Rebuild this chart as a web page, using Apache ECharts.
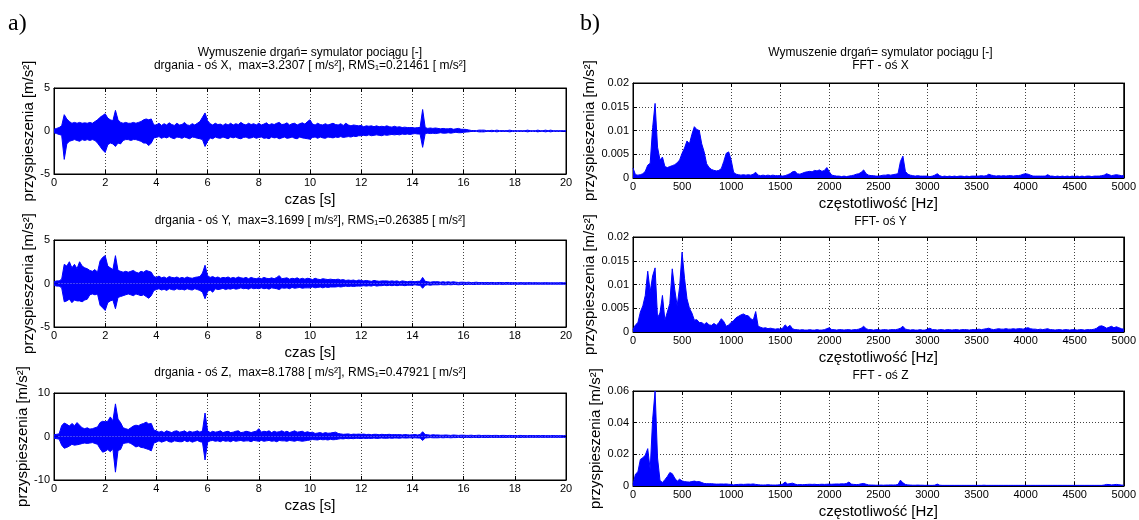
<!DOCTYPE html>
<html><head><meta charset="utf-8">
<script src="https://cdn.jsdelivr.net/npm/echarts/dist/echarts.min.js"></script>
<style>html,body{margin:0;padding:0;background:#fff}#c{width:1139px;height:520px}</style>
</head><body><div id="c"></div>
<script>
// ---------------- data ----------------
const T_STEP = 0.1;   // s, sampling of the envelope arrays
const F_STEP = 25;    // Hz, sampling of the spectrum arrays

const timeTicks = [0, 2, 4, 6, 8, 10, 12, 14, 16, 18, 20];
const freqTicks = [0, 500, 1000, 1500, 2000, 2500, 3000, 3500, 4000, 4500, 5000];

const titlesTime = [
  'drgania - oś X,  max=3.2307 [ m/s²], RMS₁=0.21461 [ m/s²]',
  'drgania - oś Y,  max=3.1699 [ m/s²], RMS₁=0.26385 [ m/s²]',
  'drgania - oś Z,  max=8.1788 [ m/s²], RMS₁=0.47921 [ m/s²]'
];
const titlesFFT = ['FFT - oś X', 'FFT- oś Y', 'FFT - oś Z'];
const mainTitle = 'Wymuszenie drgań= symulator pociągu [-]';

// upper / lower envelope of the time signals, every 0.1 s from 0 to 20 s
const xUp = [
0.2,0.3,0.4,0.6,1.9,1.4,1.1,0.9,1.0,0.9,
1.0,0.9,0.95,0.9,1.0,0.9,1.1,1.3,1.6,1.8,
2.0,1.5,1.3,1.2,2.4,1.3,1.0,0.9,1.0,0.9,
0.9,1.0,0.9,1.0,1.1,1.3,1.4,1.3,1.4,0.7,
0.7,0.9,0.65,0.85,0.7,0.95,0.75,0.65,0.9,0.7,
0.75,1.0,0.7,0.65,0.85,0.7,0.9,1.1,1.6,2.1,
1.2,0.85,0.7,0.9,0.75,0.8,0.65,0.85,0.7,0.9,
0.7,0.85,0.75,1.0,0.8,0.7,0.9,0.75,0.85,0.7,
0.9,0.7,0.8,0.95,0.7,0.85,0.75,0.9,1.0,0.75,
0.8,0.95,0.7,0.85,0.9,0.7,0.85,0.95,0.8,1.1,
1.3,0.8,0.7,0.9,0.75,0.7,0.85,0.7,0.8,0.9,
0.75,0.7,0.85,0.65,0.9,0.7,0.6,0.7,0.65,0.6,
0.65,0.5,0.6,0.55,0.6,0.5,0.6,0.5,0.55,0.5,
0.6,0.5,0.45,0.55,0.45,0.5,0.4,0.45,0.4,0.4,
0.4,0.35,0.4,0.4,2.5,0.4,0.3,0.35,0.3,0.35,
0.3,0.25,0.3,0.25,0.25,0.3,0.2,0.25,0.3,0.2,
0.2,0.18,0.12,0.06,0.05,0.04,0.1,0.1,0.1,0.04,
0.04,0.08,0.04,0.1,0.04,0.04,0.04,0.04,0.1,0.04,
0.03,0.03,0.03,0.03,0.03,0.1,0.03,0.03,0.03,0.1,
0.03,0.03,0.1,0.03,0.1,0.03,0.03,0.03,0.03,0.03,
0.03];
const xLo = [
-0.2,-0.3,-0.4,-0.5,-3.3,-1.5,-1.2,-1.1,-1.0,-1.1,
-1.2,-1.0,-1.1,-1.0,-1.1,-1.0,-1.1,-1.4,-1.8,-2.2,
-2.5,-1.6,-1.4,-1.5,-1.8,-1.4,-1.5,-1.1,-1.0,-1.0,
-1.1,-1.0,-1.0,-1.1,-1.2,-1.4,-1.4,-1.7,-1.4,-0.8,
-0.75,-0.65,-0.85,-0.7,-0.8,-0.65,-0.8,-0.9,-0.7,-0.75,
-0.85,-0.7,-0.8,-0.9,-0.7,-0.75,-0.85,-0.9,-1.0,-1.8,
-1.2,-0.8,-0.9,-0.7,-0.8,-0.85,-0.7,-0.8,-0.9,-0.7,
-0.8,-0.7,-0.85,-0.9,-0.75,-0.7,-0.85,-0.8,-0.7,-0.85,
-0.75,-0.7,-0.85,-0.8,-0.9,-0.7,-0.8,-0.75,-0.9,-0.8,
-0.7,-0.85,-0.8,-0.7,-0.85,-0.9,-0.7,-0.8,-0.85,-0.9,
-0.95,-0.75,-0.7,-0.85,-0.7,-0.8,-0.85,-0.7,-0.75,-0.8,
-0.7,-0.75,-0.65,-0.75,-0.7,-0.65,-0.7,-0.6,-0.65,-0.55,
-0.55,-0.5,-0.55,-0.45,-0.55,-0.5,-0.45,-0.5,-0.55,-0.45,
-0.5,-0.45,-0.4,-0.45,-0.4,-0.45,-0.35,-0.4,-0.35,-0.4,
-0.35,-0.3,-0.35,-0.35,-1.9,-0.3,-0.25,-0.3,-0.25,-0.3,
-0.25,-0.2,-0.25,-0.25,-0.2,-0.25,-0.2,-0.15,-0.2,-0.2,
-0.15,-0.12,-0.1,-0.05,-0.05,-0.04,-0.1,-0.1,-0.1,-0.04,
-0.04,-0.08,-0.04,-0.1,-0.04,-0.04,-0.04,-0.04,-0.1,-0.04,
-0.03,-0.03,-0.03,-0.03,-0.03,-0.1,-0.03,-0.03,-0.03,-0.1,
-0.03,-0.03,-0.1,-0.03,-0.1,-0.03,-0.03,-0.03,-0.03,-0.03,
-0.03];

const yUp = [
0.2,0.3,0.3,0.5,2.2,2.0,2.5,1.8,2.2,1.7,
2.5,2.0,1.8,1.7,1.5,1.4,1.6,1.3,2.6,3.0,
3.2,2.0,1.8,1.6,3.2,1.5,1.4,1.3,1.4,1.3,
1.4,1.5,1.3,1.2,1.4,1.3,1.5,1.4,1.3,0.8,
0.7,0.85,0.65,0.75,0.6,0.8,0.7,0.65,0.75,0.6,
0.7,0.6,0.75,0.65,0.6,0.7,0.75,0.8,1.2,2.1,
0.9,0.7,0.8,0.65,0.75,0.6,0.7,0.65,0.75,0.6,
0.7,0.6,0.75,0.65,0.6,0.7,0.55,0.7,0.6,0.55,
0.65,0.55,0.7,0.6,0.55,0.65,0.55,0.7,0.9,0.55,
0.6,0.65,0.5,0.6,0.55,0.65,0.5,0.6,0.5,0.6,
0.55,0.45,0.6,0.5,0.45,0.55,0.5,0.45,0.5,0.45,
0.45,0.5,0.4,0.45,0.35,0.4,0.35,0.4,0.3,0.4,
0.35,0.3,0.35,0.3,0.25,0.35,0.3,0.25,0.3,0.3,
0.3,0.25,0.3,0.25,0.3,0.2,0.3,0.25,0.2,0.25,
0.25,0.2,0.25,0.25,0.7,0.25,0.2,0.15,0.2,0.2,
0.2,0.15,0.2,0.15,0.2,0.15,0.2,0.15,0.12,0.15,
0.15,0.12,0.15,0.1,0.12,0.15,0.1,0.12,0.1,0.12,
0.1,0.12,0.1,0.1,0.12,0.1,0.1,0.12,0.1,0.1,
0.1,0.08,0.1,0.1,0.08,0.1,0.1,0.08,0.1,0.08,
0.08,0.08,0.1,0.08,0.08,0.08,0.08,0.08,0.1,0.08,
0.08];
const yLo = [
-0.2,-0.3,-0.3,-0.5,-2.1,-2.0,-1.8,-2.2,-1.9,-2.0,
-2.0,-2.1,-1.9,-1.8,-1.3,-1.2,-1.3,-1.2,-2.5,-2.8,
-3.1,-2.2,-2.0,-1.9,-2.9,-1.6,-1.5,-1.4,-1.3,-1.2,
-1.3,-1.4,-1.2,-1.3,-1.4,-1.3,-1.5,-1.7,-1.4,-0.8,
-0.7,-0.6,-0.75,-0.65,-0.8,-0.6,-0.7,-0.75,-0.6,-0.7,
-0.65,-0.75,-0.6,-0.7,-0.75,-0.6,-0.7,-0.8,-1.0,-1.75,
-0.9,-0.75,-1.0,-0.6,-0.7,-0.65,-0.55,-0.7,-0.6,-0.65,
-0.55,-0.65,-0.6,-0.5,-0.6,-0.55,-0.65,-0.5,-0.6,-0.55,
-0.6,-0.5,-0.6,-0.55,-0.65,-0.5,-0.55,-0.6,-0.7,-0.5,
-0.55,-0.5,-0.6,-0.45,-0.55,-0.5,-0.45,-0.55,-0.5,-0.5,
-0.5,-0.4,-0.5,-0.45,-0.4,-0.5,-0.4,-0.45,-0.4,-0.4,
-0.4,-0.35,-0.4,-0.35,-0.3,-0.35,-0.3,-0.35,-0.3,-0.3,
-0.3,-0.25,-0.3,-0.25,-0.3,-0.2,-0.3,-0.25,-0.25,-0.2,
-0.25,-0.2,-0.25,-0.2,-0.25,-0.2,-0.2,-0.25,-0.2,-0.2,
-0.2,-0.15,-0.2,-0.2,-0.55,-0.2,-0.15,-0.2,-0.15,-0.15,
-0.15,-0.12,-0.15,-0.15,-0.12,-0.15,-0.12,-0.12,-0.15,-0.12,
-0.1,-0.12,-0.1,-0.1,-0.12,-0.1,-0.1,-0.08,-0.1,-0.1,
-0.1,-0.08,-0.1,-0.1,-0.08,-0.1,-0.1,-0.08,-0.1,-0.1,
-0.08,-0.1,-0.08,-0.08,-0.1,-0.08,-0.08,-0.08,-0.08,-0.08,
-0.08,-0.08,-0.08,-0.08,-0.08,-0.08,-0.08,-0.08,-0.08,-0.08,
-0.08];

const zUp = [
0.4,0.5,0.6,2.5,3.1,2.8,2.4,3.0,2.5,3.2,
2.6,2.0,1.8,2.0,1.7,1.8,2.0,2.2,3.2,3.5,
3.4,3.5,4.5,3.6,7.5,4.0,3.2,2.0,1.8,1.6,
2.0,2.4,2.6,2.5,2.8,3.0,3.3,2.9,3.0,1.5,
1.3,1.0,1.2,0.9,1.3,1.1,0.9,1.2,1.3,1.0,
1.1,1.3,0.9,1.2,1.0,1.1,1.3,1.0,1.3,5.4,
1.3,0.9,1.2,1.0,1.1,1.3,0.9,1.1,1.2,0.9,
1.0,1.2,1.3,0.9,1.0,1.2,1.1,0.9,1.1,1.2,
1.8,1.0,1.2,1.1,1.3,0.9,1.2,1.0,1.1,1.3,
1.0,1.2,0.9,1.1,1.3,1.0,1.1,1.2,0.9,1.1,
0.9,1.0,0.7,0.8,0.9,0.7,0.9,0.75,0.8,0.9,
1.0,0.7,0.6,0.5,0.55,0.6,0.45,0.55,0.5,0.55,
0.5,0.55,0.45,0.5,0.4,0.5,0.5,0.4,0.5,0.45,
0.45,0.5,0.4,0.45,0.4,0.45,0.35,0.45,0.4,0.35,
0.4,0.45,0.35,0.45,1.1,0.45,0.4,0.3,0.4,0.35,
0.35,0.3,0.3,0.35,0.3,0.25,0.35,0.3,0.25,0.3,
0.3,0.25,0.25,0.3,0.22,0.25,0.3,0.22,0.25,0.25,
0.25,0.22,0.25,0.25,0.2,0.25,0.25,0.2,0.25,0.22,
0.22,0.2,0.25,0.22,0.2,0.2,0.22,0.22,0.2,0.22,
0.2,0.22,0.2,0.2,0.2,0.22,0.2,0.2,0.2,0.2,
0.2];
const zLo = [
-0.4,-0.5,-0.6,-2.0,-2.7,-2.5,-2.2,-1.8,-2.0,-1.9,
-1.8,-1.6,-1.5,-1.6,-1.5,-1.4,-1.6,-1.8,-2.8,-3.6,
-3.4,-3.0,-3.5,-2.8,-8.2,-3.2,-3.0,-1.6,-1.5,-1.4,
-1.6,-2.0,-2.4,-2.2,-2.5,-2.6,-2.8,-3.0,-3.3,-1.5,
-1.3,-1.0,-1.3,-1.1,-0.9,-1.2,-1.3,-1.0,-1.1,-1.2,
-1.2,-0.9,-1.2,-1.0,-1.3,-1.1,-0.9,-1.2,-1.3,-5.4,
-1.3,-1.0,-0.9,-1.1,-1.0,-1.2,-0.9,-1.1,-1.0,-1.2,
-0.9,-1.1,-1.0,-0.9,-1.1,-1.0,-1.0,-1.2,-0.9,-1.0,
-1.1,-0.9,-1.1,-1.0,-0.9,-1.1,-1.0,-1.2,-0.9,-1.0,
-1.0,-1.1,-0.9,-1.0,-1.1,-0.9,-1.0,-1.1,-1.0,-0.9,
-0.8,-0.7,-0.75,-0.8,-0.65,-0.75,-0.7,-0.8,-0.65,-0.75,
-0.7,-0.6,-0.5,-0.55,-0.45,-0.5,-0.45,-0.5,-0.4,-0.45,
-0.45,-0.4,-0.45,-0.4,-0.45,-0.35,-0.45,-0.4,-0.35,-0.4,
-0.4,-0.35,-0.4,-0.35,-0.35,-0.4,-0.3,-0.35,-0.35,-0.3,
-0.35,-0.3,-0.35,-0.35,-0.9,-0.35,-0.3,-0.25,-0.3,-0.3,
-0.3,-0.25,-0.3,-0.25,-0.25,-0.3,-0.25,-0.25,-0.2,-0.25,
-0.25,-0.2,-0.22,-0.25,-0.2,-0.22,-0.25,-0.2,-0.22,-0.22,
-0.22,-0.2,-0.22,-0.2,-0.22,-0.2,-0.22,-0.2,-0.2,-0.22,
-0.2,-0.2,-0.22,-0.2,-0.2,-0.2,-0.2,-0.2,-0.2,-0.2,
-0.2,-0.2,-0.2,-0.2,-0.2,-0.2,-0.2,-0.2,-0.2,-0.2,
-0.2];

// FFT amplitude every 25 Hz from 0 to 5000 Hz
const fftX = [
0.0021,0.0007,0.0006,0.0007,0.0009,0.0014,0.0027,0.0031,0.0106,0.0157,0.0065,0.0038,0.0044,0.0024,0.0022,0.0024,0.0026,0.0028,0.0032,0.0038,
0.0052,0.0063,0.0078,0.0072,0.0092,0.0108,0.0102,0.0100,0.0072,0.0055,0.0030,0.0022,0.0018,0.0016,0.0015,0.0016,0.0020,0.0035,0.0052,0.0055,
0.0038,0.0012,0.0008,0.0007,0.0006,0.0007,0.0006,0.0007,0.0006,0.0008,0.0012,0.0006,0.0005,0.0006,0.0005,0.0006,0.0005,0.0006,0.0005,0.0005,
0.0005,0.0004,0.0005,0.0007,0.0009,0.0013,0.0014,0.0009,0.0008,0.0010,0.0012,0.0013,0.0014,0.0013,0.0016,0.0015,0.0017,0.0014,0.0016,0.0022,
0.0013,0.0006,0.0005,0.0004,0.0004,0.0003,0.0004,0.0003,0.0004,0.0005,0.0006,0.0008,0.0009,0.0012,0.0017,0.0009,0.0006,0.0005,0.0005,0.0004,
0.0004,0.0005,0.0006,0.0006,0.0007,0.0006,0.0007,0.0008,0.0009,0.0035,0.0046,0.0014,0.0008,0.0006,0.0005,0.0004,0.0005,0.0004,0.0004,0.0004,
0.0004,0.0003,0.0004,0.0006,0.0009,0.0005,0.0003,0.0004,0.0003,0.0004,0.0003,0.0004,0.0003,0.0004,0.0004,0.0003,0.0004,0.0003,0.0004,0.0004,
0.0004,0.0004,0.0005,0.0004,0.0005,0.0008,0.0006,0.0005,0.0004,0.0005,0.0004,0.0005,0.0004,0.0005,0.0005,0.0004,0.0005,0.0005,0.0006,0.0008,
0.0009,0.0008,0.0006,0.0004,0.0004,0.0004,0.0004,0.0004,0.0004,0.0007,0.0004,0.0004,0.0003,0.0004,0.0003,0.0004,0.0003,0.0004,0.0003,0.0004,
0.0003,0.0004,0.0003,0.0004,0.0003,0.0004,0.0004,0.0003,0.0004,0.0004,0.0004,0.0005,0.0006,0.0009,0.0007,0.0005,0.0006,0.0007,0.0006,0.0005,
0.0005];
const fftY = [
0.0005,0.0015,0.0020,0.0042,0.0055,0.0077,0.0128,0.0085,0.0118,0.0135,0.0030,0.0040,0.0077,0.0025,0.0042,0.0060,0.0133,0.0090,0.0055,0.0095,
0.0168,0.0113,0.0070,0.0050,0.0040,0.0025,0.0026,0.0020,0.0020,0.0016,0.0020,0.0015,0.0014,0.0018,0.0014,0.0020,0.0028,0.0022,0.0012,0.0015,
0.0020,0.0024,0.0030,0.0033,0.0036,0.0038,0.0035,0.0034,0.0028,0.0025,0.0043,0.0012,0.0010,0.0008,0.0009,0.0007,0.0008,0.0007,0.0006,0.0007,
0.0006,0.0008,0.0015,0.0010,0.0014,0.0007,0.0005,0.0005,0.0004,0.0005,0.0004,0.0004,0.0005,0.0004,0.0004,0.0005,0.0004,0.0004,0.0005,0.0007,
0.0009,0.0005,0.0005,0.0004,0.0005,0.0005,0.0004,0.0005,0.0005,0.0004,0.0005,0.0005,0.0006,0.0008,0.0012,0.0007,0.0005,0.0005,0.0004,0.0005,
0.0005,0.0004,0.0005,0.0005,0.0004,0.0005,0.0005,0.0005,0.0006,0.0008,0.0012,0.0006,0.0005,0.0004,0.0005,0.0004,0.0004,0.0005,0.0004,0.0004,
0.0006,0.0008,0.0005,0.0005,0.0004,0.0005,0.0005,0.0004,0.0005,0.0005,0.0004,0.0005,0.0005,0.0004,0.0005,0.0005,0.0005,0.0004,0.0005,0.0005,
0.0005,0.0006,0.0005,0.0006,0.0007,0.0008,0.0006,0.0005,0.0006,0.0007,0.0006,0.0006,0.0007,0.0006,0.0006,0.0007,0.0006,0.0007,0.0007,0.0006,
0.0008,0.0009,0.0007,0.0006,0.0006,0.0005,0.0006,0.0005,0.0006,0.0007,0.0005,0.0005,0.0004,0.0005,0.0005,0.0004,0.0005,0.0005,0.0004,0.0005,
0.0005,0.0004,0.0005,0.0005,0.0004,0.0005,0.0005,0.0005,0.0006,0.0008,0.0012,0.0013,0.0011,0.0008,0.0010,0.0012,0.0009,0.0011,0.0009,0.0007,
0.0006];
const fftZ = [
0.0010,0.0075,0.0090,0.0168,0.0178,0.0195,0.0236,0.0104,0.0420,0.0600,0.0177,0.0035,0.0022,0.0040,0.0060,0.0085,0.0078,0.0050,0.0030,0.0043,
0.0032,0.0028,0.0026,0.0025,0.0028,0.0031,0.0027,0.0028,0.0022,0.0016,0.0015,0.0014,0.0015,0.0013,0.0012,0.0012,0.0013,0.0012,0.0013,0.0011,
0.0010,0.0007,0.0009,0.0010,0.0011,0.0010,0.0011,0.0012,0.0011,0.0013,0.0010,0.0008,0.0007,0.0006,0.0007,0.0008,0.0007,0.0006,0.0006,0.0007,
0.0008,0.0012,0.0025,0.0012,0.0015,0.0018,0.0012,0.0008,0.0009,0.0008,0.0009,0.0010,0.0011,0.0010,0.0011,0.0009,0.0010,0.0011,0.0010,0.0011,
0.0012,0.0011,0.0012,0.0013,0.0012,0.0014,0.0013,0.0016,0.0025,0.0012,0.0010,0.0009,0.0010,0.0014,0.0016,0.0011,0.0007,0.0006,0.0006,0.0005,
0.0005,0.0006,0.0005,0.0006,0.0006,0.0007,0.0006,0.0007,0.0009,0.0037,0.0020,0.0010,0.0007,0.0006,0.0005,0.0005,0.0006,0.0005,0.0005,0.0004,
0.0005,0.0004,0.0004,0.0005,0.0012,0.0005,0.0004,0.0004,0.0004,0.0004,0.0004,0.0004,0.0004,0.0004,0.0004,0.0004,0.0004,0.0004,0.0004,0.0004,
0.0004,0.0004,0.0004,0.0005,0.0004,0.0004,0.0004,0.0004,0.0004,0.0004,0.0004,0.0004,0.0004,0.0004,0.0004,0.0004,0.0004,0.0004,0.0004,0.0004,
0.0004,0.0004,0.0004,0.0004,0.0004,0.0004,0.0004,0.0004,0.0004,0.0004,0.0004,0.0004,0.0004,0.0004,0.0004,0.0004,0.0004,0.0004,0.0004,0.0004,
0.0004,0.0004,0.0004,0.0004,0.0004,0.0004,0.0004,0.0004,0.0004,0.0004,0.0004,0.0004,0.0006,0.0010,0.0009,0.0007,0.0008,0.0010,0.0008,0.0006,
0.0005];

// ---------------- chart ----------------
const FONT = '"Liberation Sans", Arial, "DejaVu Sans", sans-serif';
const BLUE = '#0000ff';
const toPairs = (arr, step) => arr.map((v, i) => [+(i * step).toFixed(3), v]);

// layout of the six panels (pixels)
const panels = [
  {left: 54,  top: 88,  width: 512, height: 86, kind: 't', yMax: 5,    yInt: 5,     up: xUp, lo: xLo, title: titlesTime[0], titleY: 66,  nameGap: 18},
  {left: 54,  top: 240, width: 512, height: 87, kind: 't', yMax: 5,    yInt: 5,     up: yUp, lo: yLo, title: titlesTime[1], titleY: 221, nameGap: 18},
  {left: 54,  top: 393, width: 512, height: 87, kind: 't', yMax: 10,   yInt: 10,    up: zUp, lo: zLo, title: titlesTime[2], titleY: 373, nameGap: 21},
  {left: 633, top: 83,  width: 495, height: 95, kind: 'f', yMax: 0.02, yInt: 0.005, fft: fftX, title: titlesFFT[0], titleY: 66,  nameGap: 32},
  {left: 633, top: 237, width: 495, height: 95, kind: 'f', yMax: 0.02, yInt: 0.005, fft: fftY, title: titlesFFT[1], titleY: 222, nameGap: 32},
  {left: 633, top: 391, width: 495, height: 96, kind: 'f', yMax: 0.06, yInt: 0.02,  fft: fftZ, title: titlesFFT[2], titleY: 376, nameGap: 29}
];

const grid = [], xAxis = [], yAxis = [], series = [], graphic = [];
const splitStyle = {show: true, lineStyle: {color: '#444', type: [1, 2], width: 1}};
const axLine = {show: true, onZero: false, lineStyle: {color: '#000', width: 1}};
const tick = {show: true, inside: true, length: 4, lineStyle: {color: '#000'}};
const lbl = {color: '#000', fontSize: 11, fontFamily: FONT, formatter: v => String(v)};
const nameStyle = {color: '#000', fontSize: 15, fontFamily: FONT};

panels.forEach((p, i) => {
  grid.push({left: p.left, top: p.top, width: p.width, height: p.height, show: true,
             borderColor: '#000', borderWidth: 1, backgroundColor: '#fff', containLabel: false});
  const isT = p.kind === 't';
  const xMax = isT ? timeTicks[timeTicks.length - 1] : freqTicks[freqTicks.length - 1];
  const xInt = isT ? timeTicks[1] - timeTicks[0] : freqTicks[1] - freqTicks[0];
  xAxis.push({type: 'value', gridIndex: i, position: 'bottom', min: 0, max: xMax, interval: xInt,
    name: isT ? 'czas [s]' : 'częstotliwość [Hz]', nameLocation: 'middle', nameGap: 18, nameTextStyle: nameStyle,
    axisLine: axLine, axisTick: tick, axisLabel: Object.assign({margin: 3}, lbl), splitLine: splitStyle});
  xAxis.push({type: 'value', gridIndex: i, position: 'top', min: 0, max: xMax, interval: xInt,
    axisLine: axLine, axisTick: tick, axisLabel: {show: false}, splitLine: {show: false}});
  const yMin = isT ? -p.yMax : 0;
  yAxis.push({type: 'value', gridIndex: i, position: 'left', min: yMin, max: p.yMax, interval: p.yInt,
    name: 'przyspieszenia [m/s²]', nameLocation: 'middle', nameRotate: 90, nameGap: p.nameGap, nameTextStyle: nameStyle,
    axisLine: axLine, axisTick: tick, axisLabel: Object.assign({margin: 4}, lbl), splitLine: splitStyle});
  yAxis.push({type: 'value', gridIndex: i, position: 'right', min: yMin, max: p.yMax, interval: p.yInt,
    axisLine: axLine, axisTick: tick, axisLabel: {show: false}, splitLine: {show: false}});

  const base = {type: 'line', xAxisIndex: 2 * i, yAxisIndex: 2 * i, showSymbol: false, symbol: 'none',
    sampling: null, silent: true, animation: false, clip: true,
    lineStyle: {color: BLUE, width: 1}, areaStyle: {color: BLUE, opacity: 1, origin: 0}};
  if (isT) {
    series.push(Object.assign({}, base, {data: toPairs(p.up, T_STEP)}));
    series.push(Object.assign({}, base, {data: toPairs(p.lo, T_STEP)}));
  } else {
    series.push(Object.assign({}, base, {data: toPairs(p.fft, F_STEP)}));
  }
  graphic.push({type: 'text', x: p.left + p.width / 2, y: p.titleY,
    style: {text: p.title, font: '12px ' + FONT, fill: '#000', align: 'center', verticalAlign: 'middle',
            textAlign: 'center', textVerticalAlign: 'middle'}});
});

// figure-level captions
[0, 3].forEach(k => graphic.push({type: 'text', x: panels[k].left + panels[k].width / 2, y: 53,
  style: {text: mainTitle, font: '12px ' + FONT, fill: '#000', align: 'center', verticalAlign: 'middle', textAlign: 'center', textVerticalAlign: 'middle'}}));
graphic.push({type: 'text', x: 8, y: 24,
  style: {text: 'a)', font: '24px "Liberation Serif", "Times New Roman", serif', fill: '#000', align: 'left', verticalAlign: 'middle', textAlign: 'left', textVerticalAlign: 'middle'}});
graphic.push({type: 'text', x: 580, y: 24,
  style: {text: 'b)', font: '24px "Liberation Serif", "Times New Roman", serif', fill: '#000', align: 'left', verticalAlign: 'middle', textAlign: 'left', textVerticalAlign: 'middle'}});

const chart = echarts.init(document.getElementById('c'), null, {renderer: 'canvas', width: 1139, height: 520});
chart.setOption({backgroundColor: '#fff', animation: false, grid, xAxis, yAxis, series, graphic});
</script>
</body></html>
